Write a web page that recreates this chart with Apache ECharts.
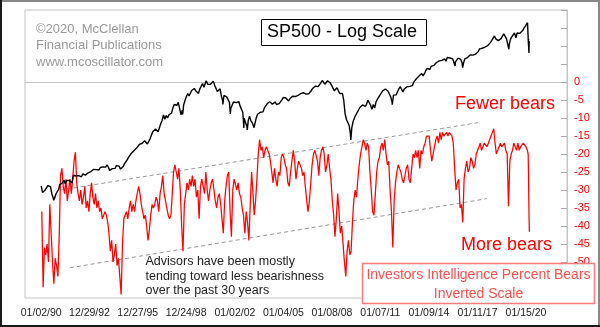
<!DOCTYPE html>
<html>
<head>
<meta charset="utf-8">
<script src="https://cdn.jsdelivr.net/npm/echarts@6/dist/echarts.min.js"></script>
<style>
  html, body { margin: 0; padding: 0; background: #fff; }
  #chart { width: 600px; height: 327px; }
</style>
</head>
<body>
<div id="chart"></div>
<script>
// S&P 500 month-end closes, Jan 1990 onward
const spx1990s = [
  329.08,331.89,339.94,330.80,361.23,358.02,356.15,322.56,306.05,304.00,322.22,330.22,
  343.93,367.07,375.22,375.34,389.83,371.16,387.81,395.43,387.86,392.46,375.22,417.09,
  408.79,412.70,403.69,414.95,415.35,408.14,424.21,414.03,417.80,418.68,431.35,435.71,
  438.78,443.38,451.67,440.19,450.19,450.53,448.13,463.56,458.93,467.83,461.79,466.45,
  481.61,467.14,445.77,450.91,456.50,444.27,458.26,475.49,462.69,472.35,453.69,459.27,
  470.42,487.39,500.71,514.71,533.40,544.75,562.06,561.88,584.41,581.50,605.37,615.93,
  636.02,640.43,645.50,654.17,669.12,670.63,639.95,651.99,687.33,705.27,757.02,740.74,
  786.16,790.82,757.12,801.34,848.28,885.14,954.31,899.47,947.28,914.62,955.40,970.43,
  980.28,1049.34,1101.75,1111.75,1090.82,1133.84,1120.67,957.28,1017.01,1098.67,1163.63,1229.23,
  1279.64,1238.33,1286.37,1335.18,1301.84,1372.71,1328.72,1320.41,1282.71,1362.93,1388.91,1469.25
];
const spx2000s = [
  1394.46,1366.42,1498.58,1452.43,1420.60,1454.60,1430.83,1517.68,1436.51,1429.40,1314.95,1320.28,
  1366.01,1239.94,1160.33,1249.46,1255.82,1224.42,1211.23,1133.58,1040.94,1059.78,1139.45,1148.08,
  1130.20,1106.73,1147.39,1076.92,1067.14,989.82,911.62,916.07,815.28,885.76,936.31,879.82,
  855.70,841.15,848.18,916.92,963.59,974.50,990.31,1008.01,995.97,1050.71,1058.20,1111.92,
  1131.13,1144.94,1126.21,1107.30,1120.68,1140.84,1101.72,1104.24,1114.58,1130.20,1173.82,1211.92,
  1181.27,1203.60,1180.59,1156.85,1191.50,1191.33,1234.18,1220.33,1228.81,1207.01,1249.48,1248.29,
  1280.08,1280.66,1294.87,1310.61,1270.09,1270.20,1276.66,1303.82,1335.85,1377.94,1400.63,1418.30,
  1438.24,1406.82,1420.86,1482.37,1530.62,1503.35,1455.27,1473.99,1526.75,1549.38,1481.14,1468.36,
  1378.55,1330.63,1322.70,1385.59,1400.38,1280.00,1267.38,1282.83,1166.36,968.75,896.24,903.25,
  825.88,735.09,797.87,872.81,919.14,919.32,987.48,1020.62,1057.08,1036.19,1095.63,1115.10
];
const spx2010s = [
  1073.87,1104.49,1169.43,1186.69,1089.41,1030.71,1101.60,1049.33,1141.20,1183.26,1180.55,1257.64,
  1286.12,1327.22,1325.83,1363.61,1345.20,1320.64,1292.28,1218.89,1131.42,1253.30,1246.96,1257.60,
  1312.41,1365.68,1408.47,1397.91,1310.33,1362.16,1379.32,1406.58,1440.67,1412.16,1416.18,1426.19,
  1498.11,1514.68,1569.19,1597.57,1630.74,1606.28,1685.73,1632.97,1681.55,1756.54,1805.81,1848.36,
  1782.59,1859.45,1872.34,1883.95,1923.57,1960.23,1930.67,2003.37,1972.29,2018.05,2067.56,2058.90,
  1994.99,2104.50,2067.89,2085.51,2107.39,2063.11,2103.84,1972.18,1920.03,2079.36,2080.41,2043.94,
  1940.24,1932.23,2059.74,2065.30,2096.95,2098.86,2173.60,2170.95,2168.27,2126.15,2198.81,2238.83,
  2278.87,2363.64,2362.72,2384.20,2411.80,2423.41,2470.30,2471.65,2519.36,2575.26,2647.58,2673.61,
  2823.81,2713.83,2640.87,2648.05,2705.27,2718.37,2816.29,2901.52,2913.98,2711.74,2760.17,2506.85,
  2704.10,2784.49,2834.40,2945.83,2752.06,2941.76,2980.38,2926.46,2976.74,3037.56,3140.98,3230.78
];
const spx2020 = [3225.52];
// intra-month turning points and the 2020 sell-off
const spxSwingDates = ['1990-01-02','1990-10-11','1998-10-08','2000-03-24','2001-04-04','2001-09-21',
  '2002-07-23','2002-10-09','2003-03-11','2007-10-09','2009-03-09','2010-07-02','2011-10-03',
  '2015-08-25','2016-02-11','2018-12-24','2020-02-19','2020-02-28','2020-03-06','2020-03-12',
  '2020-03-13','2020-03-16','2020-03-23','2020-03-26','2020-03-27'];
const spxSwingValues = [359.69,295.46,959.44,1527.46,1103.25,965.80,
  797.70,776.76,800.73,1565.15,676.53,1022.58,1099.23,
  1867.61,1829.08,2351.10,3386.15,2954.22,2972.37,2480.64,
  2711.02,2386.13,2237.40,2630.07,2541.47];

// Investors Intelligence % bears (inverted), mid-month readings, Jan 1990 onward
const bears1990s = [
  -36,-57,-46,-48,-45,-50,-34,-42,-50,-56,-49,-51,
  -54,-42,-26,-24,-29,-31,-27,-33,-30,-27,-31,-27,
  -22,-19.5,-28,-31,-33,-30,-34,-32,-29,-35,-33,-36,
  -31,-28,-32,-34,-31,-35,-33,-36,-35,-38,-37,-36,
  -37,-39,-42,-47,-44,-50,-48,-45,-51,-49,-54,-59,
  -45,-38,-37,-36,-38,-35,-33,-36,-34,-36,-33,-31,
  -29,-31,-34,-36,-38,-37,-40,-44,-41,-37,-34,-35,
  -34,-32,-33,-36,-31,-29,-26,-31,-33,-35,-37,-38,
  -37,-31,-25,-23,-25,-27,-24,-30,-40,-47,-34,-31,
  -28,-30,-27,-29,-26,-29,-27,-32,-30,-38,-29,-27
];
const bears2000s = [
  -27,-31,-25,-30,-33,-30,-28,-27,-30,-33,-35,-32,
  -31,-34,-38,-42,-33,-29,-26,-25,-36,-43,-30,-27,
  -27,-30,-28,-31,-32,-35,-37,-42,-36,-39,-44,-34,
  -25,-31,-37,-33,-27,-20,-16,-19,-18,-21,-19,-18,
  -18,-20,-22,-25,-28,-24,-27,-29,-25,-26,-21,-20,
  -21,-23,-24,-28,-29,-25,-22,-19,-22,-27,-24,-22,
  -22,-24,-26,-25,-29,-33,-36,-33,-28,-23,-20,-19,
  -19,-22,-26,-21,-19,-18,-20,-25,-23,-20,-24,-27,
  -33,-37,-43,-38,-31,-36,-42,-40,-45,-50,-54,-47,
  -44,-48,-47,-39,-33,-30,-32,-27,-23,-20,-18,-16
];
const bears2010s = [
  -17,-19,-17,-18,-25,-30,-36,-37,-31,-25,-22,-21,
  -18,-17,-19,-16,-20,-23,-22,-30,-36,-46,-33,-28,
  -25,-23,-24,-25,-27,-28,-26,-24,-23,-27,-28,-24,
  -20,-21,-19,-21,-19,-24,-19,-20,-18,-17,-15,-15,
  -15,-19,-22,-20,-18,-16,-15,-17,-14,-16,-14,-15,
  -15,-14,-15,-14,-14,-15,-17,-24,-30,-28,-27,-35,
  -34,-39,-27,-24,-22,-25,-24,-21,-22,-24,-23,-20,
  -19,-18,-17,-19,-18,-17,-17,-18,-17,-16,-15,-14,
  -13,-17,-20,-19,-18,-17,-18,-18,-17,-19,-20,-34.5,
  -22,-20,-19,-17,-18,-19,-17,-19,-18,-18,-17,-17
];
const bears2020 = [-18, -19];
const bearsTailDates = ['2020-03-04','2020-03-11','2020-03-18','2020-03-25','2020-04-01'];
const bearsTailValues = [-20, -25, -32, -38, -41.6];

// dashed channel: [start date, end date], [start value, end value]
const upperChannelDates = ['1991-03-01','2017-01-24'];
const upperChannelValues = [-30.05, -11.3];
const lowerChannelDates = ['1991-10-13','2017-08-14'];
const lowerChannelValues = [-51.6, -32.4];

const xTickDates = ['1990-01-02','1992-12-29','1995-12-27','1998-12-24','2002-01-02','2005-01-04',
  '2008-01-08','2011-01-07','2014-01-09','2017-01-11','2020-01-15'];

const FONT = '"Liberation Sans", Arial, Helvetica, sans-serif';

function ts(s) {
  const p = s.split('-').map(Number);
  return Date.UTC(p[0], p[1] - 1, p[2]);
}
function pad(n) { return (n < 10 ? '0' : '') + n; }
function fmtDate(t) {
  const d = new Date(t);
  return pad(d.getUTCMonth() + 1) + '/' + pad(d.getUTCDate()) + '/' + pad(d.getUTCFullYear() % 100);
}

// S&P line: month-end closes merged with the swing points
const spxMonthly = spx1990s.concat(spx2000s, spx2010s, spx2020);
const spxData = spxMonthly.map((v, i) => [Date.UTC(1990, i + 1, 0), v])
  .concat(spxSwingDates.map((d, i) => [ts(d), spxSwingValues[i]]))
  .sort((a, b) => a[0] - b[0]);

const bearsMonthly = bears1990s.concat(bears2000s, bears2010s, bears2020);
const bearsData = bearsMonthly.map((v, i) => [Date.UTC(1990, i, 15), v])
  .concat(bearsTailDates.map((d, i) => [ts(d), bearsTailValues[i]]));

const upperData = upperChannelDates.map((d, i) => [ts(d), upperChannelValues[i]]);
const lowerData = lowerChannelDates.map((d, i) => [ts(d), lowerChannelValues[i]]);

function txt(x, y, text, size, color, align) {
  return {
    type: 'text', x: x, y: y, z: 100, silent: true,
    style: {
      text: text, fill: color, font: size + 'px ' + FONT,
      textAlign: align || 'left', textVerticalAlign: 'middle'
    }
  };
}

const chart = echarts.init(document.getElementById('chart'), null, { renderer: 'canvas' });
chart.setOption({
  animation: false,
  backgroundColor: '#ffffff',
  grid: {
    left: 25, right: 33, top: 10, bottom: 29,
    show: true, borderColor: '#c4c4c4', borderWidth: 1, backgroundColor: '#ffffff',
    containLabel: false
  },
  xAxis: {
    type: 'value',
    min: ts('1988-12-31'),
    max: ts('2022-07-31'),
    axisLine: { show: true, lineStyle: { color: '#c4c4c4', width: 1 } },
    axisTick: { show: false },
    splitLine: { show: false },
    axisLabel: {
      customValues: xTickDates.map(ts),
      formatter: (v) => fmtDate(v),
      color: '#222', fontSize: 10.5, fontFamily: FONT, margin: 10
    }
  },
  yAxis: [
    {
      type: 'log', logBase: 10, min: 77.3, max: 4031, position: 'left', show: false,
      splitLine: { show: false }
    },
    {
      type: 'value', min: -60, max: 20, interval: 5, position: 'right',
      axisLine: { show: true, lineStyle: { color: '#c4c4c4', width: 1 } },
      axisTick: { show: true, inside: true, length: 6, lineStyle: { color: '#aaa' } },
      splitLine: { show: false },
      axisLabel: {
        color: '#ff0000', fontSize: 11, fontFamily: FONT, margin: 7,
        formatter: (v) => (v > 0 ? '' : String(v))
      }
    }
  ],
  series: [
    {
      name: 'Investors Intelligence Percent Bears', type: 'line', yAxisIndex: 1,
      data: bearsData, showSymbol: false, symbol: 'none', silent: true, z: 2,
      lineStyle: { color: '#ff0000', width: 1.25 }
    },
    {
      name: 'upper channel', type: 'line', yAxisIndex: 1, data: upperData,
      symbol: 'none', silent: true, z: 1,
      lineStyle: { color: '#999', width: 1, type: [4, 3] }
    },
    {
      name: 'lower channel', type: 'line', yAxisIndex: 1, data: lowerData,
      symbol: 'none', silent: true, z: 1,
      lineStyle: { color: '#999', width: 1, type: [4, 3] }
    },
    {
      name: 'SP500', type: 'line', yAxisIndex: 0, data: spxData,
      showSymbol: false, symbol: 'none', silent: true, z: 3,
      lineStyle: { color: '#000', width: 1.4 }
    }
  ],
  graphic: [
    // outer frame
    { type: 'line', z: 100, silent: true, shape: { x1: 0, y1: 1, x2: 600, y2: 1 }, style: { stroke: '#888', lineWidth: 2 } },
    { type: 'line', z: 100, silent: true, shape: { x1: 599, y1: 0, x2: 599, y2: 327 }, style: { stroke: '#888', lineWidth: 2 } },
    { type: 'line', z: 100, silent: true, shape: { x1: 1, y1: 0, x2: 1, y2: 327 }, style: { stroke: '#1a1a1a', lineWidth: 2 } },
    { type: 'line', z: 100, silent: true, shape: { x1: 0, y1: 326, x2: 600, y2: 326 }, style: { stroke: '#1a1a1a', lineWidth: 2 } },
    // copyright block
    txt(36, 29, '\u00a92020, McClellan', 13, '#999'),
    txt(36, 45.5, 'Financial Publications', 13, '#999'),
    txt(36, 62, 'www.mcoscillator.com', 13, '#999'),
    // title box
    { type: 'rect', z: 99, silent: true, shape: { x: 261.5, y: 19.5, width: 165, height: 26 },
      style: { fill: '#fff', stroke: '#000', lineWidth: 1 } },
    txt(267, 32.5, 'SP500 - Log Scale', 18, '#000'),
    // scale direction notes
    txt(455, 104, 'Fewer bears', 18, '#ff0000'),
    txt(461, 245, 'More bears', 18, '#ff0000'),
    // channel comment
    txt(145.5, 262, 'Advisors have been mostly', 12.5, '#222'),
    txt(145.5, 276.5, 'tending toward less bearishness', 12.5, '#222'),
    txt(145.5, 291, 'over the past 30 years', 12.5, '#222'),
    // series legend box
    { type: 'rect', z: 99, silent: true, shape: { x: 362.5, y: 263.5, width: 232, height: 40 },
      style: { fill: '#fff', stroke: '#ff7a7a', lineWidth: 1.5 } },
    txt(478.5, 275.5, 'Investors Intelligence Percent Bears', 14, '#ff5050', 'center'),
    txt(478.5, 294, 'Inverted Scale', 14, '#ff5050', 'center')
  ]
});
</script>
</body>
</html>
